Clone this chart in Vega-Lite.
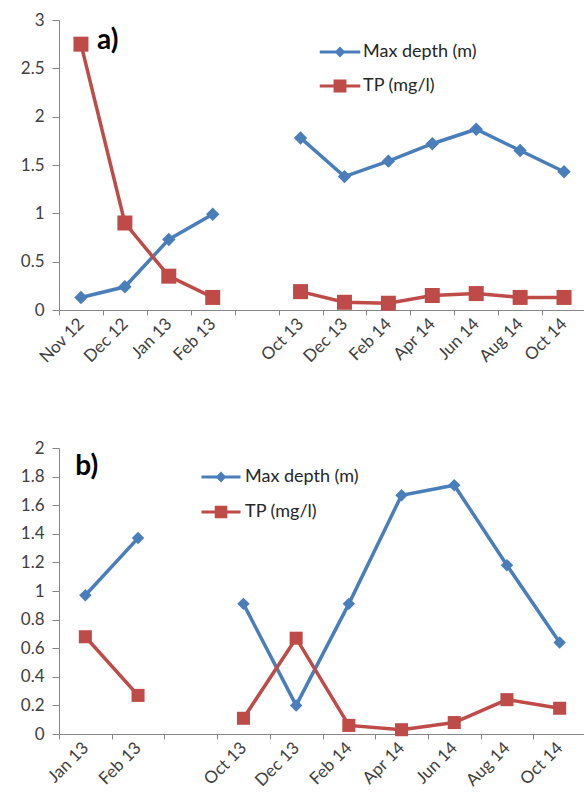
{
  "$schema": "https://vega.github.io/schema/vega-lite/v6.json",
  "padding": {"left": 20, "top": 11, "right": 0, "bottom": 0},
  "background": "white",
  "datasets": {
    "panelA": [
      {"month": "Nov 12", "series": "Max depth (m)", "value": 0.13, "season": "2012-13"},
      {"month": "Dec 12", "series": "Max depth (m)", "value": 0.24, "season": "2012-13"},
      {"month": "Jan 13", "series": "Max depth (m)", "value": 0.73, "season": "2012-13"},
      {"month": "Feb 13", "series": "Max depth (m)", "value": 0.99, "season": "2012-13"},
      {"month": "Oct 13", "series": "Max depth (m)", "value": 1.78, "season": "2013-14"},
      {"month": "Dec 13", "series": "Max depth (m)", "value": 1.38, "season": "2013-14"},
      {"month": "Feb 14", "series": "Max depth (m)", "value": 1.54, "season": "2013-14"},
      {"month": "Apr 14", "series": "Max depth (m)", "value": 1.72, "season": "2013-14"},
      {"month": "Jun 14", "series": "Max depth (m)", "value": 1.87, "season": "2013-14"},
      {"month": "Aug 14", "series": "Max depth (m)", "value": 1.65, "season": "2013-14"},
      {"month": "Oct 14", "series": "Max depth (m)", "value": 1.43, "season": "2013-14"},
      {"month": "Nov 12", "series": "TP (mg/l)", "value": 2.75, "season": "2012-13"},
      {"month": "Dec 12", "series": "TP (mg/l)", "value": 0.90, "season": "2012-13"},
      {"month": "Jan 13", "series": "TP (mg/l)", "value": 0.35, "season": "2012-13"},
      {"month": "Feb 13", "series": "TP (mg/l)", "value": 0.13, "season": "2012-13"},
      {"month": "Oct 13", "series": "TP (mg/l)", "value": 0.19, "season": "2013-14"},
      {"month": "Dec 13", "series": "TP (mg/l)", "value": 0.08, "season": "2013-14"},
      {"month": "Feb 14", "series": "TP (mg/l)", "value": 0.07, "season": "2013-14"},
      {"month": "Apr 14", "series": "TP (mg/l)", "value": 0.15, "season": "2013-14"},
      {"month": "Jun 14", "series": "TP (mg/l)", "value": 0.17, "season": "2013-14"},
      {"month": "Aug 14", "series": "TP (mg/l)", "value": 0.13, "season": "2013-14"},
      {"month": "Oct 14", "series": "TP (mg/l)", "value": 0.13, "season": "2013-14"}
    ],
    "panelB": [
      {"month": "Jan 13", "series": "Max depth (m)", "value": 0.97, "season": "2012-13"},
      {"month": "Feb 13", "series": "Max depth (m)", "value": 1.37, "season": "2012-13"},
      {"month": "Oct 13", "series": "Max depth (m)", "value": 0.91, "season": "2013-14"},
      {"month": "Dec 13", "series": "Max depth (m)", "value": 0.20, "season": "2013-14"},
      {"month": "Feb 14", "series": "Max depth (m)", "value": 0.91, "season": "2013-14"},
      {"month": "Apr 14", "series": "Max depth (m)", "value": 1.67, "season": "2013-14"},
      {"month": "Jun 14", "series": "Max depth (m)", "value": 1.74, "season": "2013-14"},
      {"month": "Aug 14", "series": "Max depth (m)", "value": 1.18, "season": "2013-14"},
      {"month": "Oct 14", "series": "Max depth (m)", "value": 0.64, "season": "2013-14"},
      {"month": "Jan 13", "series": "TP (mg/l)", "value": 0.68, "season": "2012-13"},
      {"month": "Feb 13", "series": "TP (mg/l)", "value": 0.27, "season": "2012-13"},
      {"month": "Oct 13", "series": "TP (mg/l)", "value": 0.11, "season": "2013-14"},
      {"month": "Dec 13", "series": "TP (mg/l)", "value": 0.67, "season": "2013-14"},
      {"month": "Feb 14", "series": "TP (mg/l)", "value": 0.06, "season": "2013-14"},
      {"month": "Apr 14", "series": "TP (mg/l)", "value": 0.03, "season": "2013-14"},
      {"month": "Jun 14", "series": "TP (mg/l)", "value": 0.08, "season": "2013-14"},
      {"month": "Aug 14", "series": "TP (mg/l)", "value": 0.24, "season": "2013-14"},
      {"month": "Oct 14", "series": "TP (mg/l)", "value": 0.18, "season": "2013-14"}
    ],
    "tagA": [{"tag": "a)", "month": "Nov 12", "value": 2.78}],
    "tagB": [{"tag": "b)", "month": "Jan 13", "value": 1.87}]
  },
  "vconcat": [
    {
      "width": 527,
      "height": 290,
      "data": {"name": "panelA"},
      "encoding": {
        "x": {
          "field": "month",
          "type": "ordinal",
          "title": null,
          "scale": {
            "type": "band",
            "paddingInner": 0,
            "paddingOuter": 0,
            "domain": ["Nov 12", "Dec 12", "Jan 13", "Feb 13", " ", "Oct 13", "Dec 13", "Feb 14", "Apr 14", "Jun 14", "Aug 14", "Oct 14"]
          },
          "axis": {"tickBand": "extent", "labelAngle": -45, "labelAlign": "right", "labelBaseline": "middle", "tickSize": 5, "labelPadding": 6}
        },
        "y": {
          "field": "value",
          "type": "quantitative",
          "title": null,
          "scale": {"domain": [0, 3], "nice": false},
          "axis": {"values": [0, 0.5, 1, 1.5, 2, 2.5, 3], "format": "~g"}
        },
        "color": {
          "field": "series",
          "type": "nominal",
          "scale": {"domain": ["Max depth (m)", "TP (mg/l)"], "range": ["#4a7ebb", "#be4b48"]},
          "legend": {
            "orient": "none",
            "legendX": 266,
            "legendY": 17,
            "title": null,
            "padding": 0,
            "symbolSize": 900,
            "symbolOpacity": 1,
            "symbolStrokeWidth": 0,
            "labelOffset": 8,
            "rowPadding": 10
          }
        }
      },
      "layer": [
        {"mark": {"type": "line", "strokeWidth": 3.5}, "encoding": {"detail": {"field": "season"}}},
        {
          "transform": [{"filter": "false"}],
          "mark": {"type": "point", "filled": true, "opacity": 1},
          "encoding": {
            "shape": {
              "field": "series",
              "type": "nominal",
              "scale": {
                "domain": ["Max depth (m)", "TP (mg/l)"],
                "range": [
                  "M-1.35,-0.1L-0.26,-0.1L0,-0.36L0.26,-0.1L1.35,-0.1L1.35,0.1L0.26,0.1L0,0.36L-0.26,0.1L-1.35,0.1Z",
                  "M-1.35,-0.1L-0.43,-0.1L-0.43,-0.43L0.43,-0.43L0.43,-0.1L1.35,-0.1L1.35,0.1L0.43,0.1L0.43,0.43L-0.43,0.43L-0.43,0.1L-1.35,0.1Z"
                ]
              }
            }
          }
        },
        {
          "transform": [{"filter": "datum.series === 'Max depth (m)'"}],
          "mark": {"type": "point", "filled": true, "opacity": 1, "shape": "diamond", "size": 180}
        },
        {
          "transform": [{"filter": "datum.series === 'TP (mg/l)'"}],
          "mark": {"type": "point", "filled": true, "opacity": 1, "shape": "square", "size": 225}
        },
        {
          "data": {"name": "tagA"},
          "mark": {"type": "text", "fontSize": 28, "fontWeight": "bold", "align": "left", "baseline": "middle", "dx": 16},
          "encoding": {
            "text": {"field": "tag"},
            "color": {"value": "#000000"}
          }
        }
      ]
    },
    {
      "width": 527,
      "height": 286,
      "data": {"name": "panelB"},
      "encoding": {
        "x": {
          "field": "month",
          "type": "ordinal",
          "title": null,
          "scale": {
            "type": "band",
            "paddingInner": 0,
            "paddingOuter": 0,
            "domain": ["Jan 13", "Feb 13", " ", "Oct 13", "Dec 13", "Feb 14", "Apr 14", "Jun 14", "Aug 14", "Oct 14"]
          },
          "axis": {"tickBand": "extent", "labelAngle": -45, "labelAlign": "right", "labelBaseline": "middle", "tickSize": 5, "labelPadding": 6}
        },
        "y": {
          "field": "value",
          "type": "quantitative",
          "title": null,
          "scale": {"domain": [0, 2], "nice": false},
          "axis": {"values": [0, 0.2, 0.4, 0.6, 0.8, 1, 1.2, 1.4, 1.6, 1.8, 2], "format": "~g"}
        },
        "color": {
          "field": "series",
          "type": "nominal",
          "scale": {"domain": ["Max depth (m)", "TP (mg/l)"], "range": ["#4a7ebb", "#be4b48"]},
          "legend": {
            "orient": "none",
            "legendX": 147,
            "legendY": 14,
            "title": null,
            "padding": 0,
            "symbolSize": 900,
            "symbolOpacity": 1,
            "symbolStrokeWidth": 0,
            "labelOffset": 9,
            "rowPadding": 11
          }
        }
      },
      "layer": [
        {"mark": {"type": "line", "strokeWidth": 3.5}, "encoding": {"detail": {"field": "season"}}},
        {
          "transform": [{"filter": "false"}],
          "mark": {"type": "point", "filled": true, "opacity": 1},
          "encoding": {
            "shape": {
              "field": "series",
              "type": "nominal",
              "scale": {
                "domain": ["Max depth (m)", "TP (mg/l)"],
                "range": [
                  "M-1.3,-0.1L-0.26,-0.1L0,-0.36L0.26,-0.1L1.3,-0.1L1.3,0.1L0.26,0.1L0,0.36L-0.26,0.1L-1.3,0.1Z",
                  "M-1.3,-0.1L-0.42,-0.1L-0.42,-0.42L0.42,-0.42L0.42,-0.1L1.3,-0.1L1.3,0.1L0.42,0.1L0.42,0.42L-0.42,0.42L-0.42,0.1L-1.3,0.1Z"
                ]
              }
            }
          }
        },
        {
          "transform": [{"filter": "datum.series === 'Max depth (m)'"}],
          "mark": {"type": "point", "filled": true, "opacity": 1, "shape": "diamond", "size": 155}
        },
        {
          "transform": [{"filter": "datum.series === 'TP (mg/l)'"}],
          "mark": {"type": "point", "filled": true, "opacity": 1, "shape": "square", "size": 170}
        },
        {
          "data": {"name": "tagB"},
          "mark": {"type": "text", "fontSize": 28, "fontWeight": "bold", "align": "left", "baseline": "middle", "dx": -10},
          "encoding": {
            "text": {"field": "tag"},
            "color": {"value": "#000000"}
          }
        }
      ]
    }
  ],
  "spacing": 73,
  "resolve": {"scale": {"color": "independent", "shape": "independent"}, "legend": {"color": "independent", "shape": "independent"}},
  "config": {
    "font": "Lato",
    "view": {"stroke": null},
    "axis": {
      "grid": false,
      "domainColor": "#868686",
      "tickColor": "#868686",
      "domainWidth": 1,
      "tickWidth": 1,
      "labelFont": "Lato",
      "labelFontSize": 17,
      "labelColor": "#404040"
    },
    "axisY": {"tickSize": 7, "labelPadding": 8},
    "legend": {"labelFont": "Lato", "labelFontSize": 18, "labelColor": "#262626", "labelLimit": 300}
  }
}
